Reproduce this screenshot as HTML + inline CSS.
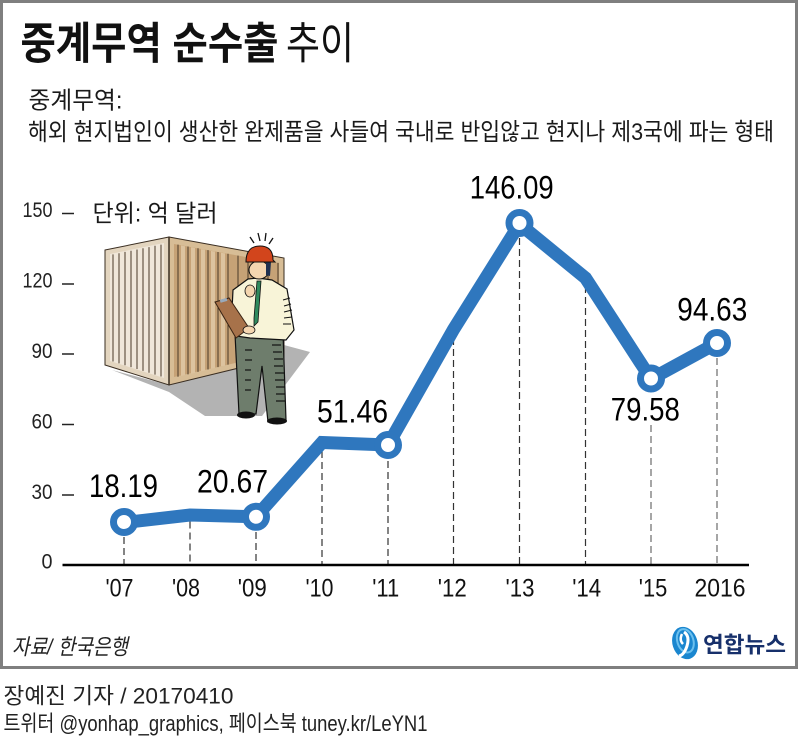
<!DOCTYPE html>
<html><head><meta charset="utf-8">
<style>
html,body{margin:0;padding:0;background:#fff;}
svg{display:block;}
.k{font-family:"Liberation Sans","Noto Sans CJK KR",sans-serif;}
.n{font-family:"Liberation Sans",sans-serif;}
</style></head><body>
<svg width="799" height="749" viewBox="0 0 799 749" xmlns="http://www.w3.org/2000/svg">
<rect x="0" y="0" width="799" height="749" fill="#fff"/>
<rect x="1.5" y="1.5" width="795" height="666" fill="none" stroke="#7f7f7f" stroke-width="3"/>

<!-- Title -->
<text class="k" x="20.5" y="58.6" font-size="44" font-weight="bold" fill="#111" textLength="258" lengthAdjust="spacingAndGlyphs">중계무역 순수출</text>
<text class="k" x="286" y="58.6" font-size="44" fill="#111" textLength="68" lengthAdjust="spacingAndGlyphs">추이</text>

<text class="k" x="28.5" y="108.3" font-size="24" fill="#1a1a1a" textLength="94" lengthAdjust="spacingAndGlyphs">중계무역:</text>
<text class="k" x="28" y="140" font-size="24" fill="#1a1a1a" textLength="746" lengthAdjust="spacingAndGlyphs">해외 현지법인이 생산한 완제품을 사들여 국내로 반입않고 현지나 제3국에 파는 형태</text>

<!-- Illustration -->
<g>
  <polygon points="112,370 169,392 205,416 262,416 310,352 284,345 169,385" fill="#b3b3b3"/>
  <!-- right face -->
  <polygon points="169,237 284,258 284,357 169,385" fill="#d7bd96" stroke="#3a2e22" stroke-width="1"/>
  <polygon points="174,244 279,263 279,353 174,377" fill="#c6a276"/>
  <g stroke="#4a3a28" stroke-width="1">
    <line x1="178" y1="244.6" x2="178" y2="376.8"/><line x1="188" y1="246.5" x2="188" y2="374.4"/>
    <line x1="198" y1="248.3" x2="198" y2="371.9"/><line x1="208" y1="250.1" x2="208" y2="369.5"/>
    <line x1="218" y1="252" x2="218" y2="367.1"/><line x1="228" y1="253.8" x2="228" y2="364.6"/>
    <line x1="238" y1="255.6" x2="238" y2="362.2"/><line x1="248" y1="257.4" x2="248" y2="359.8"/>
    <line x1="258" y1="259.3" x2="258" y2="357.3"/><line x1="268" y1="261.1" x2="268" y2="354.9"/>
    <line x1="278" y1="262.9" x2="278" y2="352.5"/>
  </g>
  <g fill="#dcc39f">
    <polygon points="181,245.5 185,246.2 185,375 181,376"/><polygon points="191,247.3 195,248 195,373 191,373.8"/>
    <polygon points="201,249.1 205,249.8 205,370.5 201,371.3"/><polygon points="211,250.9 215,251.6 215,368 211,368.8"/>
    <polygon points="221,252.7 225,253.4 225,365.6 221,366.4"/>
  </g>
  <!-- front face -->
  <polygon points="105,250 169,237 169,385 105,365" fill="#e3d5bf" stroke="#3a2e22" stroke-width="1"/>
  <polygon points="110,254 164,243 164,378 110,361" fill="#f0e7da"/>
  <g stroke="#4a3a28" stroke-width="1">
    <line x1="113" y1="254.4" x2="113" y2="361.5"/><line x1="119" y1="253.2" x2="119" y2="363.4"/>
    <line x1="125" y1="251.9" x2="125" y2="365.2"/><line x1="131" y1="250.7" x2="131" y2="367.1"/>
    <line x1="137" y1="249.5" x2="137" y2="369"/><line x1="143" y1="248.3" x2="143" y2="370.9"/>
    <line x1="149" y1="247.1" x2="149" y2="372.7"/><line x1="155" y1="245.8" x2="155" y2="374.6"/>
    <line x1="161" y1="244.6" x2="161" y2="376.5"/>
  </g>
  <line x1="169" y1="237" x2="169" y2="385" stroke="#3a2e22" stroke-width="1.5"/>

  <!-- worker -->
  <!-- pants -->
  <polygon points="235,334 283,332 286,420 268,422 262,366 256,414 239,414" fill="#6e7d6c" stroke="#111" stroke-width="1.2"/>
  <g stroke="#111" stroke-width="1.2">
    <line x1="272" y1="345" x2="281" y2="345"/><line x1="273" y1="352" x2="282" y2="352"/>
    <line x1="274" y1="359" x2="283" y2="359"/><line x1="274" y1="366" x2="283" y2="366"/>
    <line x1="275" y1="373" x2="284" y2="373"/><line x1="275" y1="380" x2="284" y2="380"/>
    <line x1="276" y1="387" x2="285" y2="387"/><line x1="276" y1="394" x2="285" y2="394"/>
    <line x1="276" y1="401" x2="285" y2="401"/><line x1="245" y1="350" x2="252" y2="350"/>
    <line x1="245" y1="360" x2="252" y2="360"/><line x1="245" y1="370" x2="251" y2="370"/>
    <line x1="245" y1="380" x2="251" y2="380"/><line x1="245" y1="390" x2="251" y2="390"/>
  </g>
  <ellipse cx="246" cy="415" rx="9" ry="3.5" fill="#111"/>
  <ellipse cx="277" cy="421" rx="10" ry="3.5" fill="#111"/>
  <!-- shirt -->
  <polygon points="233,290 248,279 258,278 272,280 287,289 294,330 286,340 250,338 236,336 232,310" fill="#f8f4d8" stroke="#111" stroke-width="1.2"/>
  <g stroke="#111" stroke-width="1">
    <line x1="283" y1="300" x2="290" y2="298"/><line x1="284" y1="306" x2="291" y2="304"/>
    <line x1="284" y1="312" x2="292" y2="310"/><line x1="284" y1="318" x2="292" y2="317"/>
    <line x1="283" y1="324" x2="291" y2="324"/>
  </g>
  <!-- tie -->
  <polygon points="257,281 261,281 258,322 254,326 254,318" fill="#2f8a5e" stroke="#111" stroke-width="0.8"/>
  <!-- head -->
  <ellipse cx="259" cy="270" rx="10" ry="9" fill="#f4d6b0" stroke="#111" stroke-width="1"/>
  <path d="M266,262 L271,262 L270,276 L266,275 Z" fill="#1f3050"/>
  <!-- helmet -->
  <path d="M246,262 Q246,246 260,246 Q273,246 273,260 L275,262 Z" fill="#d2451c" stroke="#111" stroke-width="1"/>
  <g stroke="#111" stroke-width="1.3">
    <line x1="250" y1="237" x2="254" y2="243"/><line x1="258" y1="233" x2="260" y2="241"/>
    <line x1="266" y1="233" x2="265" y2="241"/><line x1="273" y1="238" x2="269" y2="244"/>
  </g>
  <!-- raised hand -->
  <ellipse cx="250" cy="291" rx="5" ry="6" fill="#f4d6b0" stroke="#111" stroke-width="0.8"/>
  <!-- clipboard -->
  <polygon points="215,302 229,298 249,328 236,338" fill="#a7724a" stroke="#3a2414" stroke-width="1"/>
  <rect x="220" y="299" width="7" height="3" fill="#9ab" transform="rotate(-15 223 300)"/>
  <ellipse cx="249" cy="330" rx="6" ry="4" fill="#f4d6b0" stroke="#111" stroke-width="0.8"/>
</g>

<text class="k" x="92.5" y="221.6" font-size="24" fill="#1a1a1a" textLength="125" lengthAdjust="spacingAndGlyphs">단위: 억 달러</text>

<!-- Y axis -->
<g class="n" font-size="21" fill="#222" text-anchor="end">
  <text x="52.5" y="217" textLength="30" lengthAdjust="spacingAndGlyphs">150</text>
  <text x="52.5" y="287.5" textLength="30" lengthAdjust="spacingAndGlyphs">120</text>
  <text x="52.5" y="358" textLength="21" lengthAdjust="spacingAndGlyphs">90</text>
  <text x="52.5" y="428.5" textLength="21" lengthAdjust="spacingAndGlyphs">60</text>
  <text x="52.5" y="499" textLength="21" lengthAdjust="spacingAndGlyphs">30</text>
  <text x="52.5" y="568.5" textLength="11" lengthAdjust="spacingAndGlyphs">0</text>
</g>
<g stroke="#222" stroke-width="1.5">
  <line x1="62" y1="213.5" x2="74" y2="213.5"/>
  <line x1="62" y1="284" x2="74" y2="284"/>
  <line x1="62" y1="354" x2="74" y2="354"/>
  <line x1="62" y1="424.5" x2="74" y2="424.5"/>
  <line x1="62" y1="495" x2="74" y2="495"/>
</g>

<!-- dashed guides -->
<g stroke="#333" stroke-width="1.2" stroke-dasharray="7,4" fill="none">
  <line x1="124" y1="537" x2="124" y2="565"/>
  <line x1="190" y1="521.5" x2="190" y2="565"/>
  <line x1="256" y1="532" x2="256" y2="565"/>
  <line x1="322" y1="451" x2="322" y2="565"/>
  <line x1="388" y1="461" x2="388" y2="565"/>
  <line x1="453.5" y1="338" x2="453.5" y2="565"/>
  <line x1="519.5" y1="238" x2="519.5" y2="565"/>
  <line x1="585.5" y1="286" x2="585.5" y2="565"/>
</g>
<g stroke="#888" stroke-width="1.5" stroke-dasharray="7,4" fill="none">
  <line x1="651" y1="425" x2="651" y2="565"/>
  <line x1="717" y1="358" x2="717" y2="565"/>
</g>

<line x1="62.5" y1="565" x2="749" y2="565" stroke="#000" stroke-width="2.5"/>

<!-- series -->
<polyline points="124,522.6 190,515 256,516.8 322,442.5 388,445 453.5,329.5 519.5,224 585.5,278 651,379 717,343" fill="none" stroke="#2f77be" stroke-width="13" stroke-linejoin="miter" stroke-miterlimit="3"/>
<g fill="#fff" stroke="#2f77be" stroke-width="7">
  <circle cx="124" cy="522" r="10.5"/>
  <circle cx="256" cy="516.8" r="10.5"/>
  <circle cx="388" cy="445" r="10.5"/>
  <circle cx="519.5" cy="223" r="10.5"/>
  <circle cx="651" cy="378.5" r="10.5"/>
  <circle cx="717" cy="343" r="10.5"/>
</g>

<!-- data labels -->
<g class="n" font-size="32" fill="#000" text-anchor="middle">
  <text x="123.5" y="497" textLength="69" lengthAdjust="spacingAndGlyphs">18.19</text>
  <text x="232.5" y="492.7" textLength="71" lengthAdjust="spacingAndGlyphs">20.67</text>
  <text x="352.5" y="422.7" textLength="71" lengthAdjust="spacingAndGlyphs">51.46</text>
  <text x="511.7" y="198.3" textLength="84" lengthAdjust="spacingAndGlyphs">146.09</text>
  <text x="712.3" y="320.7" textLength="70" lengthAdjust="spacingAndGlyphs">94.63</text>
  <text x="645.3" y="420.3" textLength="69" lengthAdjust="spacingAndGlyphs">79.58</text>
</g>

<!-- x labels -->
<g class="n" font-size="25" fill="#111">
  <text x="105.5" y="596.7" textLength="28" lengthAdjust="spacingAndGlyphs">'07</text>
  <text x="172" y="596.7" textLength="28" lengthAdjust="spacingAndGlyphs">'08</text>
  <text x="237.8" y="596.7" textLength="29" lengthAdjust="spacingAndGlyphs">'09</text>
  <text x="305.5" y="596.7" textLength="28" lengthAdjust="spacingAndGlyphs">'10</text>
  <text x="372.2" y="596.7" textLength="27" lengthAdjust="spacingAndGlyphs">'11</text>
  <text x="437.8" y="596.7" textLength="29" lengthAdjust="spacingAndGlyphs">'12</text>
  <text x="505.5" y="596.7" textLength="29" lengthAdjust="spacingAndGlyphs">'13</text>
  <text x="572.2" y="596.7" textLength="29" lengthAdjust="spacingAndGlyphs">'14</text>
  <text x="638.8" y="596.7" textLength="28.5" lengthAdjust="spacingAndGlyphs">'15</text>
  <text x="694.5" y="596.7" textLength="51" lengthAdjust="spacingAndGlyphs">2016</text>
</g>

<!-- source -->
<text class="k" x="12" y="654.5" font-size="22" font-style="italic" fill="#222" textLength="116" lengthAdjust="spacingAndGlyphs">자료/ 한국은행</text>

<!-- logo -->
<g transform="rotate(-18 685 643)">
  <ellipse cx="685" cy="643" rx="12.5" ry="16.5" fill="#1a86cf"/>
  <ellipse cx="686" cy="641" rx="8" ry="12" fill="none" stroke="#6cc0ee" stroke-width="2"/>
</g>
<path d="M684,632 Q690,636 687,646 Q684,655 679,656" fill="none" stroke="#fff" stroke-width="3"/>
<path d="M682,634 Q679,640 683,644" fill="none" stroke="#fff" stroke-width="2.5"/>
<text class="k" x="703" y="652.5" font-size="22" font-weight="bold" fill="#17306b" textLength="83" lengthAdjust="spacingAndGlyphs">연합뉴스</text>

<!-- footer -->
<text class="k" x="3.5" y="703.5" font-size="22" fill="#222" textLength="230" lengthAdjust="spacingAndGlyphs">장예진 기자 / 20170410</text>
<text class="k" x="3.5" y="731" font-size="22" fill="#222" textLength="424" lengthAdjust="spacingAndGlyphs">트위터 @yonhap_graphics, 페이스북 tuney.kr/LeYN1</text>
</svg>
</body></html>
